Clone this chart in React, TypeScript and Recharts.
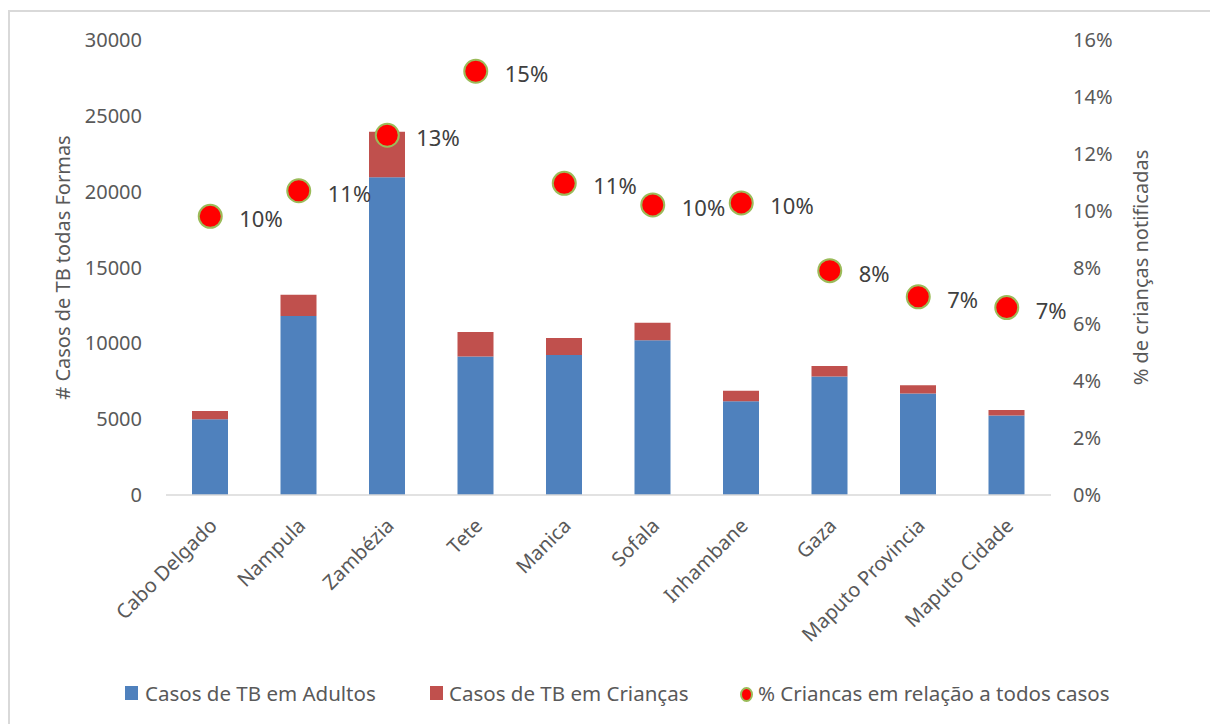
import React from 'react';
import {
  ComposedChart,
  Bar,
  Line,
  XAxis,
  YAxis,
  LabelList,
  Label,
} from 'recharts';

const provinces = [
  'Cabo Delgado',
  'Nampula',
  'Zambézia',
  'Tete',
  'Manica',
  'Sofala',
  'Inhambane',
  'Gaza',
  'Maputo Provincia',
  'Maputo Cidade',
];
const adultCases = [4990, 11800, 20950, 9140, 9230, 10200, 6180, 7820, 6700, 5250];
const childCases = [550, 1400, 3000, 1610, 1120, 1160, 700, 680, 530, 350];
const childPct = [9.8, 10.7, 12.65, 14.9, 10.96, 10.2, 10.27, 7.89, 6.97, 6.59];

const leftTicks = [0, 5000, 10000, 15000, 20000, 25000, 30000];
const rightTicks = [0, 2, 4, 6, 8, 10, 12, 14, 16];

const seriesNames = [
  'Casos de TB em Adultos',
  'Casos de TB em Crianças',
  '% Criancas em relação a todos casos',
];
const leftTitle = '# Casos de TB todas Formas';
const rightTitle = '% de crianças notificadas';

const data = provinces.map((p, i) => ({
  name: p,
  adults: adultCases[i],
  children: childCases[i],
  pct: childPct[i],
}));

const FONT = "'Noto Sans', sans-serif";
const TICK_COLOR = '#595959';
const BLUE = '#4F81BD';
const RED = '#C0504D';
const DOT_FILL = '#FF0000';
const DOT_STROKE = '#9BBB59';

const XTick = (props: any) => {
  const { x, y, payload } = props;
  const ax = x + 8;
  const ay = y + 24;
  return (
    <text
      x={ax}
      y={ay}
      transform={`rotate(-45, ${ax}, ${ay})`}
      textAnchor="end"
      fill={TICK_COLOR}
      fontSize={20}
      fontFamily={FONT}
    >
      {payload.value}
    </text>
  );
};

const PctLabel = (props: any) => {
  const { x, y, value } = props;
  if (x == null || y == null) return null;
  return (
    <text
      x={Number(x) + 29}
      y={Number(y) + 2}
      dominantBaseline="central"
      fill="#404040"
      fontSize={22}
      fontFamily={FONT}
    >
      {Math.round(Number(value))}%
    </text>
  );
};

const LeftTitle = (props: any) => {
  const vb = props.viewBox || {};
  const cx = (vb.x ?? 0) + 52;
  const cy = (vb.y ?? 0) + (vb.height ?? 0) / 2;
  return (
    <text
      x={cx}
      y={cy}
      transform={`rotate(-90, ${cx}, ${cy})`}
      textAnchor="middle"
      dominantBaseline="central"
      fill={TICK_COLOR}
      fontSize={20}
      fontFamily={FONT}
    >
      {leftTitle}
    </text>
  );
};

const RightTitle = (props: any) => {
  const vb = props.viewBox || {};
  const cx = (vb.x ?? 0) + 89;
  const cy = (vb.y ?? 0) + (vb.height ?? 0) / 2;
  return (
    <text
      x={cx}
      y={cy}
      transform={`rotate(-90, ${cx}, ${cy})`}
      textAnchor="middle"
      dominantBaseline="central"
      fill={TICK_COLOR}
      fontSize={20}
      fontFamily={FONT}
    >
      {rightTitle}
    </text>
  );
};

const legendText: React.CSSProperties = {
  position: 'absolute',
  top: 681,
  transform: 'translateY(-50%)',
  fontFamily: FONT,
  fontSize: 20.5,
  color: TICK_COLOR,
  whiteSpace: 'nowrap',
  lineHeight: 1,
};

export default function App() {
  return (
    <div
      style={{
        position: 'fixed',
        left: 8,
        top: 10,
        width: 1202,
        height: 714,
        boxSizing: 'border-box',
        borderLeft: '2px solid #d9d9d9',
        borderTop: '2px solid #d9d9d9',
        overflow: 'hidden',
        background: '#fff',
      }}
    >
      <ComposedChart
        width={1200}
        height={712}
        data={data}
        accessibilityLayer={false}
        style={{ outline: 'none' }}
        margin={{ top: 28, right: 0, bottom: 0, left: 0 }}
      >
        <XAxis
          dataKey="name"
          height={229}
          interval={0}
          tickLine={false}
          axisLine={{ stroke: '#d9d9d9', strokeWidth: 1.5 }}
          tick={<XTick />}
        />
        <YAxis
          yAxisId="left"
          orientation="left"
          width={156}
          domain={[0, 30000]}
          ticks={leftTicks}
          interval={0}
          axisLine={false}
          tickLine={false}
          tickMargin={18}
          tick={{ fill: TICK_COLOR, fontSize: 20, fontFamily: FONT }}
        >
          <Label content={<LeftTitle />} />
        </YAxis>
        <YAxis
          yAxisId="right"
          orientation="right"
          width={159}
          domain={[0, 16]}
          ticks={rightTicks}
          interval={0}
          axisLine={false}
          tickLine={false}
          tickMargin={16}
          tickFormatter={(v: number) => `${v}%`}
          tick={{ fill: TICK_COLOR, fontSize: 20, fontFamily: FONT, textAnchor: 'start' }}
        >
          <Label content={<RightTitle />} />
        </YAxis>
        <Bar
          yAxisId="left"
          dataKey="adults"
          stackId="a"
          fill={BLUE}
          barSize={36}
          isAnimationActive={false}
        />
        <Bar
          yAxisId="left"
          dataKey="children"
          stackId="a"
          fill={RED}
          barSize={36}
          isAnimationActive={false}
        />
        <Line
          yAxisId="right"
          dataKey="pct"
          stroke="none"
          dot={{ r: 11.5, fill: DOT_FILL, stroke: DOT_STROKE, strokeWidth: 2 }}
          activeDot={false}
          isAnimationActive={false}
        >
          <LabelList dataKey="pct" content={<PctLabel />} />
        </Line>
      </ComposedChart>

      <div style={{ position: 'absolute', left: 115, top: 674, width: 13, height: 14, background: BLUE }} />
      <div style={{ ...legendText, left: 135 }}>{seriesNames[0]}</div>
      <div style={{ position: 'absolute', left: 420, top: 674, width: 13, height: 14, background: RED }} />
      <div style={{ ...legendText, left: 439 }}>{seriesNames[1]}</div>
      <div
        style={{
          position: 'absolute',
          left: 730,
          top: 675,
          width: 9,
          height: 11,
          borderRadius: '50%',
          background: DOT_FILL,
          border: `2px solid ${DOT_STROKE}`,
        }}
      />
      <div style={{ ...legendText, left: 748 }}>{seriesNames[2]}</div>
    </div>
  );
}
